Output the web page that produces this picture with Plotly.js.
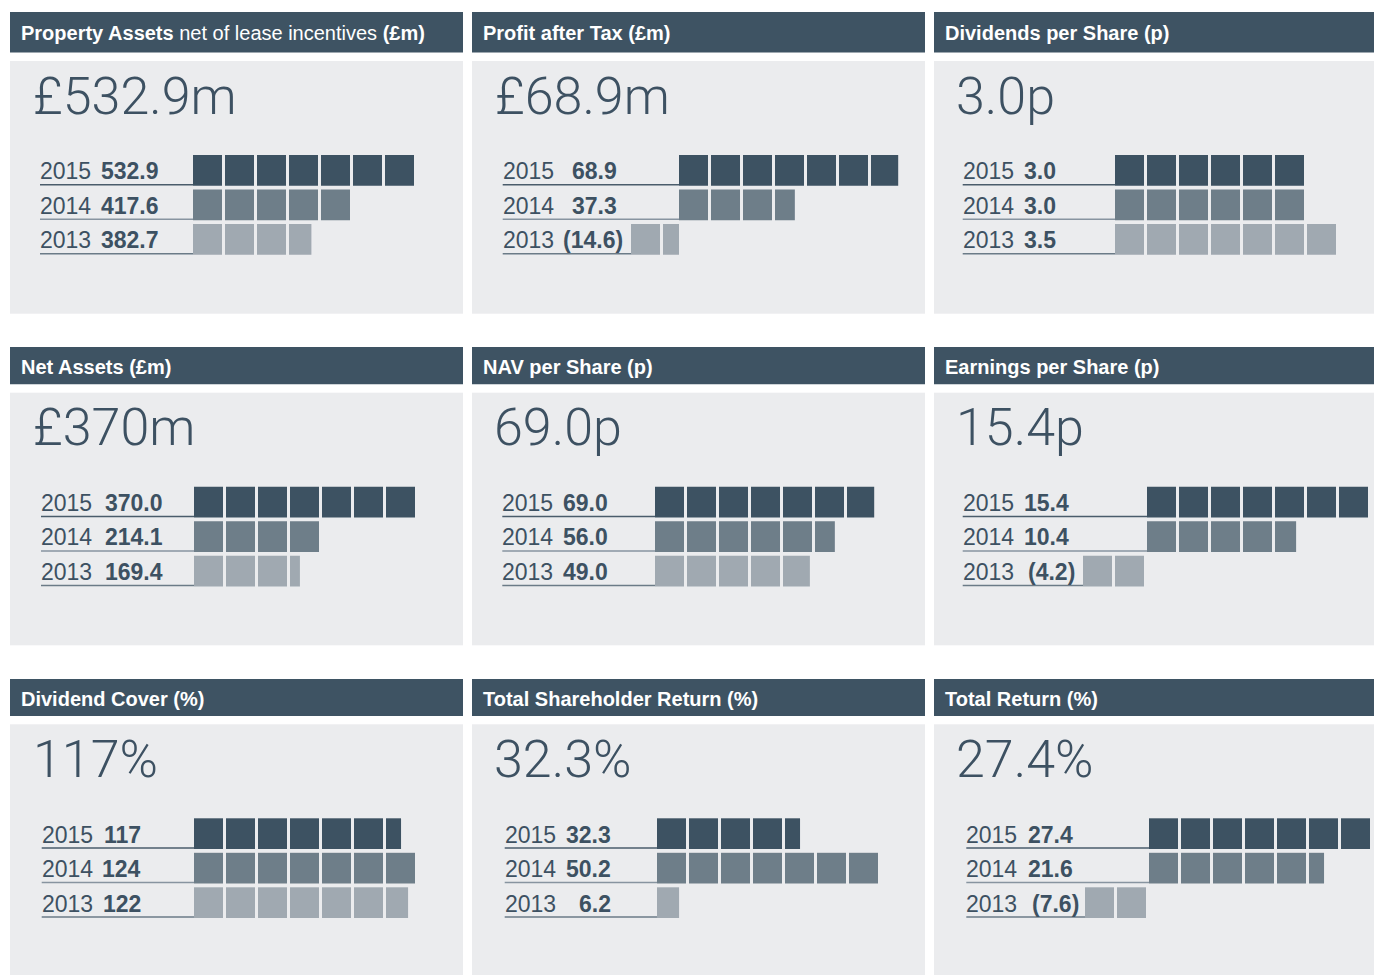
<!DOCTYPE html>
<html><head><meta charset="utf-8">
<script src="https://cdn.plot.ly/plotly-3.0.1.min.js"></script>
<style>html,body{margin:0;padding:0;background:#fff;overflow:hidden}#chart{width:1374px;height:975px;}</style>
</head><body><div id="chart"></div>
<script>
// ---- data ----
const years = ['2015', '2014', '2013'];
const titles = [
  '<b>Property Assets</b> net of lease incentives <b>(£m)</b>',
  '<b>Profit after Tax (£m)</b>',
  '<b>Dividends per Share (p)</b>',
  '<b>Net Assets (£m)</b>',
  '<b>NAV per Share (p)</b>',
  '<b>Earnings per Share (p)</b>',
  '<b>Dividend Cover (%)</b>',
  '<b>Total Shareholder Return (%)</b>',
  '<b>Total Return (%)</b>'
];
const headlines = ['£532.9m', '£68.9m', '3.0p', '£370m', '69.0p', '15.4p', '117%', '32.3%', '27.4%'];

const propertyAssets = [532.9, 417.6, 382.7];
const profitAfterTax = [68.9, 37.3, -14.6];
const dividendsPerShare = [3.0, 3.0, 3.5];
const netAssets = [370.0, 214.1, 169.4];
const navPerShare = [69.0, 56.0, 49.0];
const earningsPerShare = [15.4, 10.4, -4.2];
const dividendCover = [117, 124, 122];
const totalShareholderReturn = [32.3, 50.2, 6.2];
const totalReturn = [27.4, 21.6, -7.6];

// bar lengths as drawn in the graphic, in blocks
const propertyAssetsBlocks = [7, 5, 3.70];
const profitAfterTaxBlocks = [6.85, 3.62, -1.5];
const dividendsPerShareBlocks = [6, 6, 7];
const netAssetsBlocks = [7, 4, 3.31];
const navPerShareBlocks = [6.85, 5.62, 4.84];
const earningsPerShareBlocks = [7, 4.66, -2];
const dividendCoverBlocks = [6.47, 7, 6.69];
const totalShareholderReturnBlocks = [4.47, 7, 0.69];
const totalReturnBlocks = [7, 5.47, -2];

const decimals = [1, 1, 1, 1, 1, 1, 0, 1, 1];

// ---- layout geometry ----
const W = 1374, H = 975;
const colBox = [[10, 463], [472, 925], [934, 1374]];
const rowHead = [[12, 52.5], [347, 384.3], [679, 716]];
const rowBox = [[61, 313.7], [392.7, 645.3], [724.3, 975]];
const geo = [
  {origin: 193, labelX: 40, valRight: 159.3, bigX: 33},
  {origin: 679, labelX: 502.7, valRight: 616.7, bigX: 495},
  {origin: 1115, labelX: 962.7, valRight: 1055.7, bigX: 956},
  {origin: 194, labelX: 41, valRight: 163.3, bigX: 33},
  {origin: 655, labelX: 502.3, valRight: 608.3, bigX: 494},
  {origin: 1147, labelX: 962.7, valRight: 1069, bigX: 956},
  {origin: 194, labelX: 41.7, valRight: 141, bigX: 33},
  {origin: 657, labelX: 504.7, valRight: 611, bigX: 494},
  {origin: 1149, labelX: 966.3, valRight: 1072.7, bigX: 956}
];
const PX = 32, PY = 34.5, BAR_H = 30.7, BLOCK = 29 / 32;
const rowColors = ['#3d5262', '#6e7e89', '#a0a9b1'];
const lineColors = ['#4a5c6b', '#8794a0', '#6b7b87'];
const textColor = '#3d5162';
const headColor = '#3e5363';
const boxColor = '#ebecee';

const values = [propertyAssets, profitAfterTax, dividendsPerShare, netAssets, navPerShare,
  earningsPerShare, dividendCover, totalShareholderReturn, totalReturn];
const blocks = [propertyAssetsBlocks, profitAfterTaxBlocks, dividendsPerShareBlocks, netAssetsBlocks,
  navPerShareBlocks, earningsPerShareBlocks, dividendCoverBlocks, totalShareholderReturnBlocks, totalReturnBlocks];

const traces = [];
const shapes = [];
const annotations = [];
const layout = {
  width: W, height: H, margin: {l: 0, r: 0, t: 0, b: 0, pad: 0},
  paper_bgcolor: '#ffffff', plot_bgcolor: boxColor,
  barmode: 'overlay', showlegend: false, hovermode: false,
  font: {family: 'Liberation Sans, Arial, sans-serif', color: textColor}
};

function fmt(v, d) {
  const s = Math.abs(v).toFixed(d);
  return v < 0 ? '(' + s + ')' : s;
}

for (let p = 0; p < 9; p++) {
  const col = p % 3, row = Math.floor(p / 3);
  const g = geo[p];
  const k = p + 1;
  const xa = 'x' + (k === 1 ? '' : k), ya = 'y' + (k === 1 ? '' : k);
  const [bl, br] = colBox[col];
  const [bt, bb] = rowBox[row];
  const c0 = bt + 94 + BAR_H / 2;
  layout['xaxis' + (k === 1 ? '' : k)] = {
    domain: [bl / W, br / W], range: [(bl - g.origin) / PX, (br - g.origin) / PX],
    visible: false, fixedrange: true, anchor: ya
  };
  layout['yaxis' + (k === 1 ? '' : k)] = {
    domain: [1 - bb / H, 1 - bt / H], range: [(bb - c0) / PY, (bt - c0) / PY],
    visible: false, fixedrange: true, anchor: xa
  };

  // header
  const [ht, hb] = rowHead[row];
  shapes.push({type: 'rect', xref: 'paper', yref: 'paper', x0: bl / W, x1: br / W,
    y0: 1 - hb / H, y1: 1 - ht / H, fillcolor: headColor, line: {width: 0}, layer: 'below'});
  annotations.push({xref: 'paper', yref: 'paper', x: (bl + 8.5) / W, y: 1 - ((ht + hb) / 2) / H,
    xanchor: 'left', yanchor: 'middle', yshift: -1, showarrow: false, text: titles[p],
    font: {size: 20, color: '#ffffff', family: 'Liberation Sans, Arial, sans-serif'}});

  // big headline number
  const baseline = bt + 53.5;
  annotations.push({xref: 'paper', yref: 'paper', x: (g.bigX - 2) / W, y: 1 - baseline / H,
    xanchor: 'left', yanchor: 'bottom', yshift: -14, showarrow: false, text: headlines[p],
    font: {size: 52, color: textColor, family: 'Roboto, Liberation Sans, sans-serif', weight: 300}});

  for (let r = 0; r < 3; r++) {
    const L = blocks[p][r];
    const bases = [], lens = [], ys = [];
    const A = Math.abs(L);
    for (let i = 0; i < A - 1e-9; i++) {
      const len = Math.min(BLOCK, A - i);
      bases.push(L >= 0 ? i : L + i);
      lens.push(len);
      ys.push(r);
    }
    traces.push({type: 'bar', orientation: 'h', x: lens, base: bases, y: ys,
      width: BAR_H / PY, marker: {color: rowColors[r], line: {width: 0}},
      xaxis: xa, yaxis: ya, hoverinfo: 'skip', showlegend: false});

    const uy = r + (BAR_H / PY) / 2 - 1 / PY;
    shapes.push({type: 'line', xref: xa, yref: ya, x0: (g.labelX - g.origin) / PX, x1: Math.min(0, L),
      y0: uy, y1: uy, line: {color: lineColors[r], width: 1.5}});

    annotations.push({xref: 'paper', yref: ya, x: (g.labelX - 2) / W, y: uy, xanchor: 'left', yanchor: 'bottom',
      yshift: -1.5, showarrow: false, text: years[r],
      font: {size: 23, color: textColor, family: 'Liberation Sans, Arial, sans-serif'}});
    const v = values[p][r];
    annotations.push({xref: 'paper', yref: ya, x: (g.valRight + 2 + (v < 0 ? 6 : 0)) / W, y: uy,
      xanchor: 'right', yanchor: 'bottom', yshift: -1.5, showarrow: false,
      text: '<b>' + fmt(v, decimals[p]) + '</b>',
      font: {size: 23, color: textColor, family: 'Liberation Sans, Arial, sans-serif'}});
  }
}
layout.shapes = shapes;
layout.annotations = annotations;
Plotly.newPlot('chart', traces, layout, {staticPlot: true, displayModeBar: false});
</script></body></html>
